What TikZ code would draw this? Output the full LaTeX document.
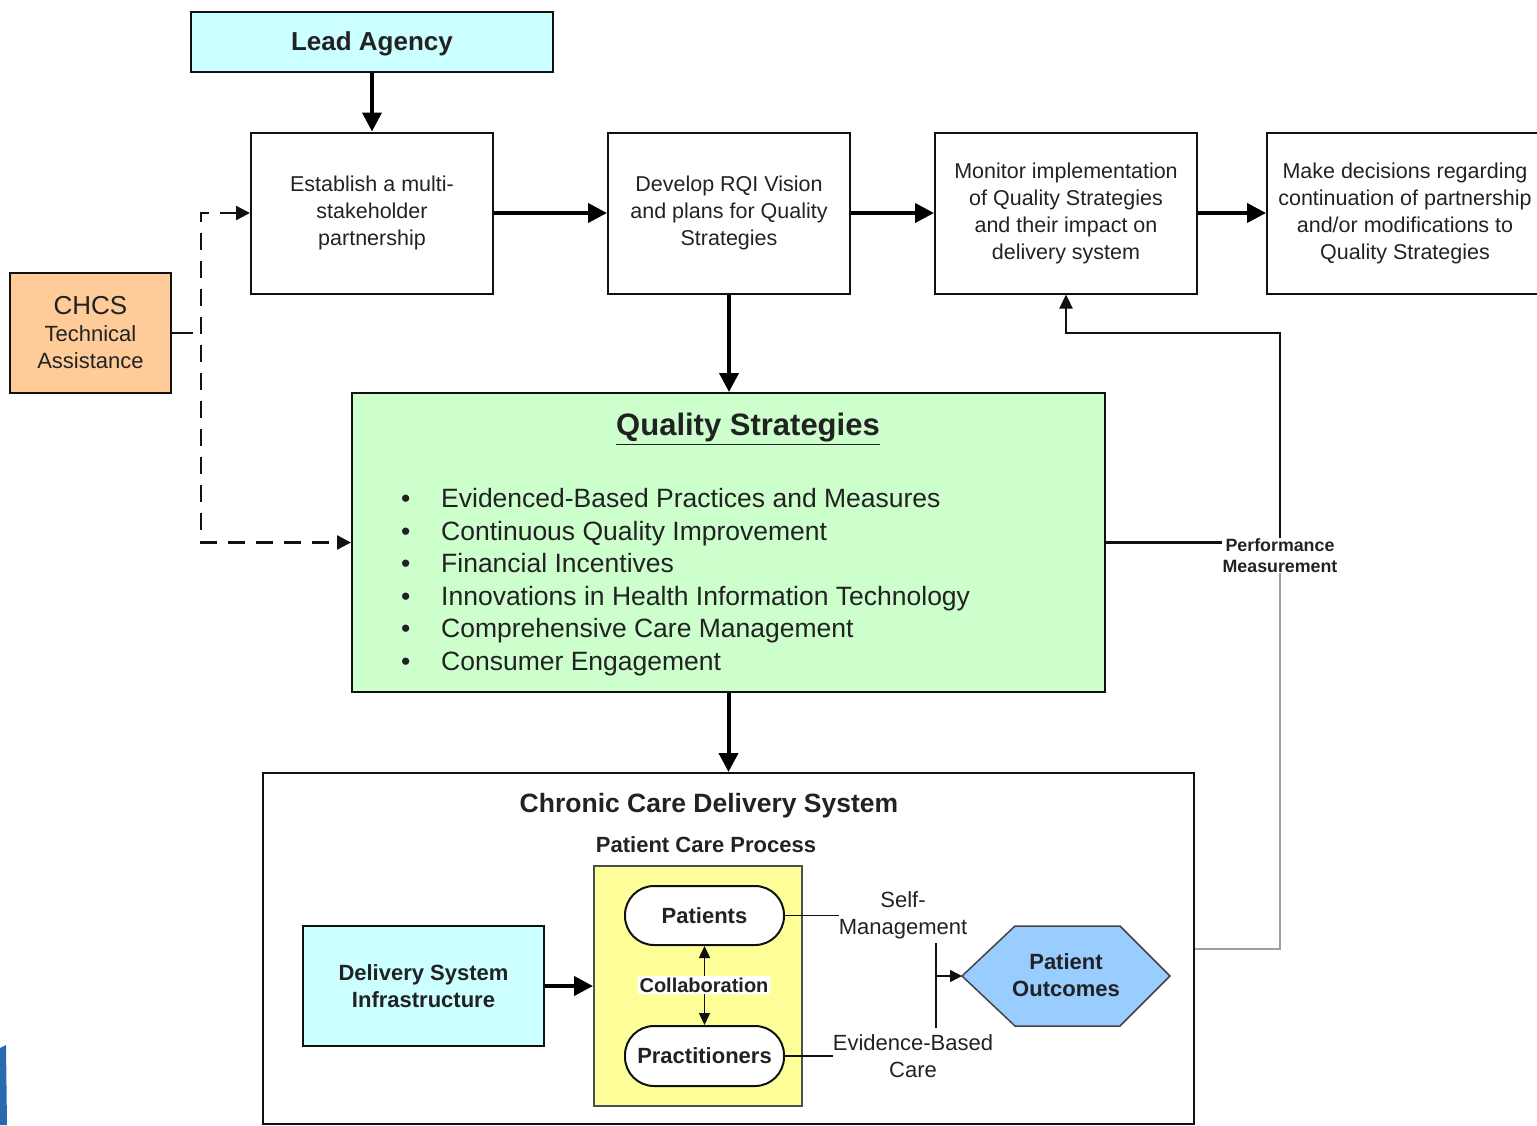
\documentclass[tikz,border=0pt]{standalone}
\usepackage{fontspec}
\setmainfont{Liberation Sans}
\usetikzlibrary{arrows.meta}

\definecolor{agencycyan}{HTML}{CCFFFF}
\definecolor{qsgreen}{HTML}{CCFFCC}
\definecolor{taorange}{HTML}{FFCC99}
\definecolor{procyellow}{HTML}{FFFF99}
\definecolor{outblue}{HTML}{99CCFF}
\definecolor{ink}{HTML}{222222}
\definecolor{wire}{HTML}{111111}

\newcommand{\fs}[2]{\fontsize{#1}{#2}\selectfont}

\tikzset{
  box/.style={draw=wire, line width=2pt, align=center, inner sep=0pt, text=ink},
  flow/.style={draw=black, line width=4pt, -{Triangle[length=19pt,width=19pt]}},
  thinline/.style={draw=wire, line width=1.5pt},
  thinarrow/.style={thinline, -{Triangle[length=12pt,width=12pt]}},
  tadash/.style={draw=wire, line width=2.4pt, dash pattern=on 17pt off 11pt,
    {Triangle[length=14pt,width=14pt]}-{Triangle[length=14pt,width=14pt]}},
  lbl/.style={inner sep=0pt, align=center, text=ink},
}

\begin{document}
\begin{tikzpicture}[x=1pt,y=-1pt]
\useasboundingbox (0,0) rectangle (1537,1125);

% top row of process steps
\node[box, fill=agencycyan, minimum width=362pt, minimum height=60pt, font=\fs{26}{30}\bfseries,
      text height=23pt, text depth=5.5pt]
  (lead) at (372,42) {Lead Agency};
\node[box, minimum width=242pt, minimum height=161pt, font=\fs{21.5}{27}]
  (step1) at (372,213) {Establish a multi-\\stakeholder\\partnership};
\node[box, minimum width=242pt, minimum height=161pt, font=\fs{21.5}{27}]
  (step2) at (729,213) {Develop RQI Vision\\and plans for Quality\\Strategies};
\node[box, minimum width=262pt, minimum height=161pt, font=\fs{21.5}{27}]
  (step3) at (1066,213) {Monitor implementation\\of Quality Strategies\\and their impact on\\delivery system};
\node[box, minimum width=276pt, minimum height=161pt, font=\fs{21.5}{27}]
  (step4) at (1405,213) {Make decisions regarding\\continuation of partnership\\and/or modifications to\\Quality Strategies};

% technical assistance
\node[box, fill=taorange, minimum width=161pt, minimum height=120pt, font=\fs{22}{27}]
  (chcs) at (90.5,333) {\fontsize{26}{30}\selectfont CHCS\\[0pt]Technical\\Assistance};

% quality strategies panel
\node[box, fill=qsgreen, minimum width=753pt, minimum height=299pt]
  (qs) at (728.5,542.5) {};
\node[lbl, font=\fs{31}{36}\bfseries] (qstitle) at (748,429) {\underline{Quality Strategies}};
\node[lbl, anchor=north west, align=left, font=\fs{26.5}{32.6}] (qslist) at (401,488) {%
  \makebox[40pt][l]{\textbullet}Evidenced-Based Practices and Measures\\
  \makebox[40pt][l]{\textbullet}Continuous Quality Improvement\\
  \makebox[40pt][l]{\textbullet}Financial Incentives\\
  \makebox[40pt][l]{\textbullet}Innovations in Health Information Technology\\
  \makebox[40pt][l]{\textbullet}Comprehensive Care Management\\
  \makebox[40pt][l]{\textbullet}Consumer Engagement};

% chronic care delivery system
\node[box, minimum width=931pt, minimum height=351pt] (ccd) at (728.5,948.5) {};
\node[lbl, font=\fs{26.5}{30}\bfseries] (ccdtitle) at (709,806) {Chronic Care Delivery System};
\node[lbl, font=\fs{22}{26}\bfseries] (pcptitle) at (706,845) {Patient Care Process};
\node[box, fill=agencycyan, minimum width=241pt, minimum height=120pt, font=\fs{22}{27}\bfseries]
  (dsi) at (423.5,986) {Delivery System\\Infrastructure};
\node[box, draw=ink!80, fill=procyellow, minimum width=208pt, minimum height=240pt]
  (pcp) at (698,986) {};
\node[box, fill=white, rounded corners=29pt, minimum width=159pt, minimum height=59pt, font=\fs{22}{26}\bfseries]
  (patients) at (704.5,915.5) {Patients};
\node[box, fill=white, rounded corners=29pt, minimum width=159pt, minimum height=60pt, font=\fs{22}{26}\bfseries]
  (pract) at (704.5,1056) {Practitioners};
\node[lbl, font=\fs{22}{27}] (selfm) at (903,915) {Self-\\Management};
\node[lbl, font=\fs{22}{27}] (ebc) at (913,1056) {Evidence-Based\\Care};

% patient outcomes hexagon
\draw[draw=ink!85, line width=1.5pt, fill=outblue]
  (962,976) -- (1015,926) -- (1120,926) -- (1170,976) -- (1120,1026) -- (1015,1026) -- cycle;
\node[lbl, font=\fs{22}{27}\bfseries] (outcomes) at (1066,975) {Patient\\Outcomes};
\coordinate (outwest) at (962,976);

% main flow
\draw[flow] (lead) -- (step1);
\draw[flow] (step1) -- (step2);
\draw[flow] (step2) -- (step3);
\draw[flow] (step3) -- (step4);
\draw[flow] (step2.south) -- (step2.south |- qs.north);
\draw[flow] (qs.south) -- (ccd.north);
\draw[flow] (dsi.east) -- (pcp.west);

% technical assistance links
\coordinate (tabus) at (201,333);
\draw[thinline, line width=2pt] (chcs.east) -- ++(21,0);
\draw[tadash] (step1.west) -| (tabus) |- (qs.west);

% collaboration between patients and practitioners
\draw[thinline, {Triangle[length=12pt,width=11pt]}-{Triangle[length=12pt,width=11pt]}]
  (patients.south) -- (pract.north);
\node[lbl, fill=white, inner sep=1.5pt, font=\fs{20}{24}\bfseries] (collab) at (704,985) {Collaboration};

% inputs to patient outcomes
\coordinate (jtop) at (936,943);
\coordinate (jbot) at (936,1028);
\coordinate (jmid) at (936,976);
\draw[thinline] (patients.east) -- (patients.east -| selfm.west);
\draw[thinline] (pract.east) -- (pract.east -| ebc.west);
\draw[thinline] (jtop) -- (jbot);
\draw[thinarrow] (jmid) -- (outwest);

% performance measurement feedback
\node[lbl, font=\fs{17.8}{21}\bfseries] (pm) at (1280,555.5) {Performance\\Measurement};
\coordinate (fb) at (1066,333);
\draw[thinline, line width=2.2pt] (qs.east) -- (qs.east -| pm.west);
\draw[thinline, line width=2.3pt, -{Triangle[length=14pt,width=13pt]}] (pm.north) |- (fb) -- (step3.south);
\draw[draw=gray!75, line width=1.8pt] (ccd.east |- 0,949) -| (pm.south);

% slide corner edge
\fill[fill={rgb,255:red,42;green,104;blue,176}] (0,1048) -- (6,1045) -- (7,1125) -- (0,1125) -- cycle;
\end{tikzpicture}
\end{document}
